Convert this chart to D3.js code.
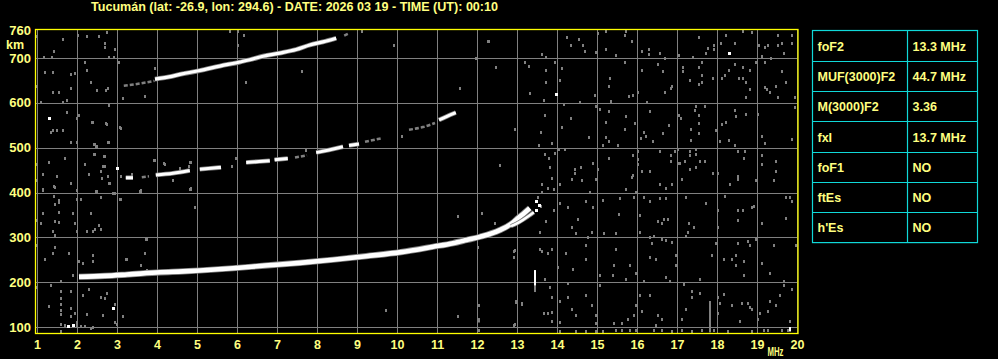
<!DOCTYPE html>
<html><head><meta charset="utf-8">
<script src="https://cdn.jsdelivr.net/npm/d3@7"></script>
<style>html,body{margin:0;padding:0;background:#000;}svg{display:block;}</style>
</head><body>
<script>
// ---------- DATA ----------
const titleText = "Tucumán (lat: -26.9, lon: 294.6) - DATE: 2026 03 19 - TIME (UT): 00:10";
const freqTicks = [1,2,3,4,5,6,7,8,9,10,11,12,13,14,15,16,17,18,19,20];   // MHz
const heightTicks = [100,200,300,400,500,600,700];                       // km
const heightTop = 760, heightMin = 87, heightMax = 764;
const freqMin = 1, freqMax = 20;

const paramNames  = ["foF2","MUF(3000)F2","M(3000)F2","fxI","foF1","ftEs","h'Es"];
const paramValues = ["13.3 MHz","44.7 MHz","3.36","13.7 MHz","NO","NO","NO"];

// traces: [freq MHz, virtual height km]; amplitude 1 = strong echo, 0.5 = weak echo
const f2Ordinary = [[2.05,212],[2.69,214],[3.25,217],[4.08,222],[4.65,224],[5.07,226],[5.9,231],[6.7,237],[7.57,243],[8.4,250],[9.23,258],[10.1,267],[10.9,279],[11.4,287],[11.74,294],[12.07,301],[12.57,316],[12.9,333],[13.0,341],[13.19,355],[13.32,365]];
const f2Extraordinary = [[12.85,325],[13.0,331],[13.15,339],[13.3,348],[13.42,356]];
const secondHop = [
  [1,[[3.22,433],[3.4,433]]],
  [0.5,[[3.62,434],[3.8,436]]],
  [1,[[3.97,439],[4.4,443],[4.82,449]]],
  [1,[[5.07,452],[5.35,454],[5.6,456]]],
  [1,[[6.23,467],[6.55,469],[6.82,471]]],
  [1,[[6.94,473],[7.27,476]]],
  [0.5,[[7.45,478],[7.75,483]]],
  [1,[[7.98,489],[8.3,495],[8.65,502]]],
  [1,[[8.8,505],[9.05,508]]],
  [0.5,[[9.2,513],[9.62,521]]],
  [0.5,[[10.3,540],[10.65,546],[10.95,555]]],
  [1,[[11.05,562],[11.25,570],[11.47,578]]]
];
const thirdHop = [
  [0.5,[[3.17,638],[3.5,642],[3.94,649]]],
  [1,[[3.95,653],[4.3,658],[4.6,664],[5.07,672],[5.57,682],[6.07,691],[6.32,696],[6.65,704],[7.07,711],[7.48,719],[7.82,729],[8.15,736],[8.48,744]]],
  [0.5,[[8.68,750],[8.8,755]]]
];
// isolated strong echoes
const whiteDots = [[13.98,619],[18.29,712],[1.3,566],[3.0,454],[2.9,142],[1.78,102],[1.9,105],[13.48,382],[13.48,360],[13.55,372]];
// vertical streaks: [freq, h0, h1, amplitude]
const streaks = [[13.44,192,227,1],[13.44,178,192,0.5],[17.83,88,158,0.5],[19.83,90,100,1],[12.05,110,120,0.5]];
// weak noise echoes
const grayDots = [
[12.29,739],[12.48,681],[13.19,692],[13.29,683],[13.63,708],[13.73,703],[13.73,674],[13.73,647],[13.33,621],[13.68,607],[13.94,692],[14.13,677],[14.08,652],[14.24,747],[14.34,730],[14.54,743],[14.64,730],[14.69,716],[15.03,755],[15.23,760],[14.98,714],[15.23,719],[15.48,707],[15.73,760],[15.69,751],[15.88,739],[15.69,692],[15.32,656],[15.29,638],[14.94,618],[15.34,603],[14.98,592],[15.07,586],[14.58,601],[14.18,598],[13.69,572],[14.34,567],[14.13,545],[13.59,534],[12.94,541],[13.54,505],[13.88,510],[13.69,486],[13.79,478],[13.94,487],[14.04,496],[14.19,496],[12.58,461],[13.83,456],[14.44,452],[14.44,443],[14.59,456],[14.9,465],[15.03,452],[15.23,558],[15.29,581],[15.73,570],[15.94,554],[15.69,541],[15.23,523],[15.29,514],[14.79,523],[15.15,505],[15.53,505],[15.29,478],[15.9,483],[16.03,492],[16.03,464],[15.9,438],[16.33,447],[16.58,492],[16.85,483],[16.86,470],[16.94,492],[17.07,465],[17.19,470],[17.32,492],[17.32,483],[17.48,496],[17.48,485],[17.57,470],[17.69,470],[17.32,452],[17.48,456],[17.9,443],
[16.12,716],[16.3,721],[16.3,710],[16.58,712],[16.69,699],[16.53,687],[16.13,674],[16.64,670],[16.88,638],[16.84,634],[16.69,625],[16.03,625],[16.24,601],[15.9,618],[15.79,616],[17.04,707],[17.15,679],[17.15,670],[17.33,652],[17.54,747],[17.39,703],[17.78,723],[17.93,729],[17.93,721],[17.73,712],[17.63,692],[17.54,679],[17.63,661],[17.63,647],[17.54,643],[17.9,656],[18.19,661],[18.13,656],[18.29,674],[18.44,687],[18.65,679],[18.55,656],[18.65,656],[18.73,647],[18.83,674],[18.83,630],[18.73,614],[18.23,752],[18.44,734],[18.64,761],[18.88,759],[18.09,734],[19.05,730],[19.2,725],[19.28,730],[19.53,752],[19.63,734],[19.53,730],[19.68,712],[19.88,752],[19.88,734],[19.13,705],[19.34,699],[18.98,692],[19.19,692],[19.63,670],[19.73,647],[19.19,636],[19.25,630],[19.33,625],[19.48,638],[19.53,614],[19.94,612],[19.94,590],[19.03,576],[18.73,576],[18.48,570],[18.44,585],[18.13,552],[18.23,558],[17.98,539],[18.29,516],[18.08,514],[18.44,505],[18.53,492],[18.69,492],[18.68,478],[19.13,525],[19.19,510],[19.13,483],[19.13,464],[19.48,470],[19.48,447],[19.88,519],[18.03,443],[18.53,436],[17.48,594],[17.44,585],[17.69,594],[17.54,572],[17.54,556],[17.06,572],[17.1,567],[16.79,550],[16.64,532],[16.4,514],[16.23,525],[16.09,521],[16.18,536],[16.33,581],[17.34,541],[17.54,532],[17.34,518],[17.02,496],[17.04,465],[16.13,447],[16.02,474],[15.89,483],
[13.88,432],[14.07,418],[14.38,431],[14.63,427],[14.98,431],[15.88,434],[16.58,420],[16.73,411],[16.88,420],[17.13,429],[18.33,420],[18.53,431],[18.98,427],[19.43,427],[13.62,420],[13.78,411],[13.63,402],[13.92,407],[14.83,402],[15.73,407],[15.98,402],[13.53,389],[13.93,362],[14.07,376],[14.28,367],[14.53,340],[14.38,324],[14.73,382],[14.9,367],[15.15,384],[15.57,387],[15.54,353],[15.93,389],[16.08,349],[16.18,389],[16.33,380],[16.58,387],[16.73,387],[17.23,389],[17.73,376],[18.03,362],[18.2,393],[18.53,362],[18.65,362],[18.88,367],[18.93,371],[19.73,389],[19.83,389],[19.88,380],[19.73,344],[19.13,333],[18.53,338],[18.03,322],[17.3,331],[17.43,322],[17.28,313],[17.23,304],[16.68,340],[16.53,336],[16.78,340],[16.63,331],[16.08,313],[16.33,300],[16.63,297],[16.43,304],[16.73,293],[16.88,290],[16.38,287],[15.48,309],[15.18,309],[14.88,313],[14.78,300],[14.48,309],[13.73,336],[13.58,313],[13.58,273],[13.78,264],[13.63,269],[13.88,273],[12.93,269],[12.93,256],[14.03,233],[14.23,264],[14.4,229],[14.73,251],[14.73,282],[15.48,273],[15.08,216],[15.4,216],[15.73,207],[15.43,238],[15.83,238],[15.98,220],[16.18,202],[16.33,256],[16.48,251],[16.73,211],[16.83,202],[16.98,260],[16.98,238],[17.18,196],[17.38,180],[17.58,176],[17.58,207],[17.88,260],[17.98,287],[18.18,251],[18.38,251],[18.48,238],[18.48,260],[18.53,287],[18.68,247],[18.68,216],[18.78,291],[18.83,282],[18.98,296],[19.13,242],[19.33,220],[19.43,282],[19.68,202],[19.68,193],[19.88,184],[19.98,282],[13.7,207],[13.82,189],[13.88,167],[14.28,198],[14.28,167],[14.08,158],[14.38,140],[14.73,171],[15.08,193],[14.88,149],[13.68,131],[13.78,131],[13.88,134],[13.88,113],[14.07,112],[14.48,127],[15.43,109],[15.63,109],[15.78,118],[15.93,127],[16.08,171],[16.33,171],[15.98,149],[16.13,136],[16.53,127],[16.63,118],[16.48,104],[17.13,118],[17.23,141],[17.38,167],[18.03,167],[18.08,153],[18.03,131],[18.18,173],[18.38,149],[18.63,153],[18.78,153],[18.83,144],[18.88,140],[18.58,113],[19.03,118],[19.08,131],[19.28,136],[19.33,158],[19.48,149],[19.58,171],[19.83,113],[13.13,153],[12.98,158],[12.93,104],[14.98,127],[14.98,109],
[14.07,92],[14.48,92],[14.73,92],[14.98,91],[15.15,91],[15.48,93],[15.63,93],[15.83,93],[15.98,93],[16.43,93],[16.63,93],[16.88,91],[17.13,93],[17.38,91],[17.63,93],[17.93,93],[18.28,91],[18.88,91],[19.18,93],[19.28,93],[19.63,93],[19.78,93],
[1.0,750],[1.42,716],[1.65,743],[2.02,752],[2.25,748],[2.55,750],[2.75,757],[2.7,734],[2.7,725],[2.95,719],[2.8,703],[2.92,703],[1.17,703],[1.38,703],[1.2,669],[1.4,669],[1.85,665],[1.95,667],[2.2,692],[2.25,674],[2.35,647],[2.5,629],[2.72,629],[2.77,634],[1.4,625],[1.55,625],[1.85,634],[1.75,607],[1.65,602],[1.1,602],[2.8,596],[3.05,692],[3.95,678],[3.7,616],[3.15,611],[1.75,580],[2.05,573],[2.0,566],[2.4,557],[2.75,553],[3.1,544],[1.4,540],[1.5,540],[1.65,540],[1.35,535],[1.85,513],[2.45,508],[2.5,504],[2.0,513],[2.8,513],[2.45,486],[2.7,481],[1.7,477],[1.3,468],[2.2,463],[2.65,459],[2.7,459],[2.3,441],[1.15,441],[1.5,437],[1.85,421],[1.45,413],[1.15,405],[1.0,463],[1.0,428],[1.0,638],[2.0,405],[2.5,403],[2.6,448],[2.8,421],[3.1,437],[2.95,399],[3.6,405],[3.95,472],[4.2,463],[4.85,468],[4.8,459],[4.4,428],[4.85,410],
[1.15,407],[1.42,414],[1.55,383],[1.55,379],[1.45,374],[1.42,392],[1.55,356],[1.15,354],[1.45,336],[1.55,334],[1.4,314],[1.45,305],[1.1,332],[1.0,338],[1.85,421],[2.0,385],[2.1,385],[1.9,354],[1.95,332],[2.0,314],[2.35,354],[2.25,314],[2.4,314],[2.45,318],[2.55,327],[2.6,318],[2.6,390],[2.5,403],[2.9,399],[3.1,385],[3.6,403],[4.85,407],[4.95,367],[3.75,296],[3.7,265],[3.6,238],[3.75,227],[3.25,252],[2.4,260],[2.4,247],[2.05,247],[2.15,243],[1.8,265],[1.45,278],[1.4,265],[1.2,252],[1.0,283],[1.0,189],[1.35,194],[1.3,147],[1.6,203],[1.6,180],[1.6,165],[1.6,151],[1.6,138],[1.6,129],[1.6,107],[1.6,92],[1.85,180],[1.85,142],[1.85,125],[1.9,216],[1.95,131],[2.0,111],[2.1,102],[2.15,171],[2.2,102],[2.25,129],[2.35,98],[2.4,100],[2.3,185],[2.6,167],[2.7,165],[2.75,176],[2.95,151],[2.95,111],[3.0,107],[3.15,125],[2.65,127],[1.7,104],[2.0,104],
[5.83,761],[6.03,761],[6.18,752],[6.03,730],[7.63,670],[6.23,647],[9.13,761],[9.93,730],[11.58,634],[12.28,739],[11.98,699],[10.13,527],
[2.38,558],[2.73,554],[2.79,596],[3.08,545],[2.78,513],[2.43,508],[2.48,504],[2.43,486],[2.68,482],[2.65,459],[2.78,437],[2.83,422],[2.62,432],[2.48,404],[2.9,399],[2.6,390],[3.08,386],[3.58,404],[3.38,441],[3.93,473],[4.18,465],[4.83,468],[4.58,455],[4.83,408],[5.98,477],[5.88,459],[7.73,495],
[4.94,368],[3.69,266],[3.23,252],[3.73,296],[11.53,348],[12.13,354],[12.03,279],[12.94,272],[12.44,331],[13.59,369],[9.73,138],[11.52,125],[12.05,149],[12.05,94],[12.98,156],[13.13,151],[12.94,106]
];

// ---------- DRAWING ----------
const W = 998, H = 359;
const svg = d3.select("body").append("svg").attr("width", W).attr("height", H)
  .style("background", "#000");

const x = d3.scaleLinear().domain([1, 20]).range([37, 797]);
const y = d3.scaleLinear().domain([100, 700]).range([327, 58]);
const px = v => Math.round(x(v)) + 0.5;
const py = v => Math.round(y(v)) + 0.5;

const fontAxis = "'Liberation Sans', Arial, sans-serif";
const txtCol = "#ffff80";

// title
svg.append("text").attr("x", 91).attr("y", 11)
  .attr("fill", txtCol).attr("font-family", fontAxis).attr("font-weight", "bold")
  .attr("font-size", 12).attr("textLength", 407).attr("lengthAdjust", "spacingAndGlyphs")
  .text(titleText);

const plot = svg.append("g");

// grid
plot.selectAll("line.vg").data(freqTicks).join("line").attr("class", "vg")
  .attr("x1", d => px(d)).attr("x2", d => px(d))
  .attr("y1", Math.round(y(heightMax))).attr("y2", Math.round(y(heightMin)))
  .attr("stroke", "#808080").attr("stroke-width", 1);
plot.selectAll("line.hg").data(heightTicks).join("line").attr("class", "hg")
  .attr("y1", d => py(d)).attr("y2", d => py(d))
  .attr("x1", x(freqMin) - 1).attr("x2", x(freqMax))
  .attr("stroke", "#808080").attr("stroke-width", 1);

// noise speckles
plot.selectAll("rect.gd").data(grayDots).join("rect").attr("class", "gd")
  .attr("x", d => Math.round(x(d[0])) - 1).attr("y", d => Math.round(y(d[1])) - 1)
  .attr("width", 2).attr("height", 3).attr("fill", "#808080");

// streaks
plot.selectAll("rect.st").data(streaks).join("rect").attr("class", "st")
  .attr("x", d => Math.round(x(d[0])) - 1).attr("y", d => y(d[2]))
  .attr("width", 2).attr("height", d => y(d[1]) - y(d[2]))
  .attr("fill", d => d[3] >= 1 ? "#ffffff" : "#808080");

// traces
const line = d3.line().x(d => x(d[0])).y(d => y(d[1])).curve(d3.curveMonotoneX);
function drawTrace(pts, amp, w) {
  if (amp >= 1) {
    plot.append("path").attr("d", line(pts)).attr("fill", "none")
      .attr("stroke", "#808080").attr("stroke-width", w + 1.6).attr("stroke-linecap", "butt");
    plot.append("path").attr("d", line(pts)).attr("fill", "none")
      .attr("stroke", "#ffffff").attr("stroke-width", w).attr("stroke-linecap", "butt");
  } else {
    plot.append("path").attr("d", line(pts)).attr("fill", "none")
      .attr("stroke", "#808080").attr("stroke-width", w).attr("stroke-linecap", "butt")
      .attr("stroke-dasharray", "4,2");
  }
}
thirdHop.forEach(s => drawTrace(s[1], s[0], s[0] >= 1 ? 3.2 : 2.5));
secondHop.forEach(s => drawTrace(s[1], s[0], s[0] >= 1 ? 3 : 2.5));
drawTrace(f2Ordinary, 1, 4.6);
drawTrace(f2Extraordinary, 1, 2.6);

plot.selectAll("rect.wd").data(whiteDots).join("rect").attr("class", "wd")
  .attr("x", d => Math.round(x(d[0])) - 1).attr("y", d => Math.round(y(d[1])) - 1)
  .attr("width", 3).attr("height", 3).attr("fill", "#ffffff");

// frame
plot.append("rect").attr("x", 35.5).attr("y", Math.round(y(heightMax)) + 0.5)
  .attr("width", 798 - 35.5).attr("height", Math.round(y(heightMin)) - Math.round(y(heightMax)))
  .attr("fill", "none").attr("stroke", "#ffff00").attr("stroke-width", 1.3);

// y labels
svg.selectAll("text.yl").data(heightTicks).join("text").attr("class", "yl")
  .attr("x", 31).attr("y", d => y(d) + 4.6).attr("text-anchor", "end")
  .attr("fill", txtCol).attr("font-family", fontAxis).attr("font-weight", "bold").attr("font-size", 13)
  .text(d => d);
svg.append("text").attr("x", 31).attr("y", Math.round(y(heightMax)) + 5.5).attr("text-anchor", "end")
  .attr("fill", txtCol).attr("font-family", fontAxis).attr("font-weight", "bold").attr("font-size", 13)
  .text(heightTop);
svg.append("text").attr("x", 6).attr("y", 48.5)
  .attr("fill", txtCol).attr("font-family", fontAxis).attr("font-weight", "bold").attr("font-size", 12.5)
  .text("km");

// x labels
svg.selectAll("text.xl").data(freqTicks).join("text").attr("class", "xl")
  .attr("x", d => x(d) + 0.5).attr("y", 348.5).attr("text-anchor", "middle")
  .attr("fill", txtCol).attr("font-family", fontAxis).attr("font-weight", "bold").attr("font-size", 12.5)
  .text(d => d);
svg.append("text").attr("x", 767.5).attr("y", 356)
  .attr("fill", txtCol).attr("font-family", fontAxis).attr("font-weight", "bold").attr("font-size", 12.5)
  .attr("textLength", 16).attr("lengthAdjust", "spacingAndGlyphs")
  .text("MHz");

// parameter table
const tX0 = 812.5, tX1 = 907.5, tX2 = 977.5, tY0 = 30.5, rowH = 30.3;
const tbl = svg.append("g");
tbl.append("rect").attr("x", tX0).attr("y", tY0).attr("width", tX2 - tX0).attr("height", rowH * paramNames.length)
  .attr("fill", "none").attr("stroke", "#10d8d8").attr("stroke-width", 1.2);
tbl.append("line").attr("x1", tX1).attr("x2", tX1).attr("y1", tY0).attr("y2", tY0 + rowH * paramNames.length)
  .attr("stroke", "#10d8d8").attr("stroke-width", 1.2);
tbl.selectAll("line.rl").data(paramNames.slice(1)).join("line").attr("class", "rl")
  .attr("x1", tX0).attr("x2", tX2)
  .attr("y1", (d, i) => Math.round(tY0 + rowH * (i + 1)) + 0.5)
  .attr("y2", (d, i) => Math.round(tY0 + rowH * (i + 1)) + 0.5)
  .attr("stroke", "#10d8d8").attr("stroke-width", 1.2);
tbl.selectAll("text.pn").data(paramNames).join("text").attr("class", "pn")
  .attr("x", 817.5).attr("y", (d, i) => tY0 + rowH * i + rowH / 2 + 5)
  .attr("fill", txtCol).attr("font-family", fontAxis).attr("font-weight", "bold").attr("font-size", 12.5)
  .text(d => d);
tbl.selectAll("text.pv").data(paramValues).join("text").attr("class", "pv")
  .attr("x", 912.5).attr("y", (d, i) => tY0 + rowH * i + rowH / 2 + 5)
  .attr("fill", txtCol).attr("font-family", fontAxis).attr("font-weight", "bold").attr("font-size", 12.5)
  .text(d => d);
</script>
</body></html>
